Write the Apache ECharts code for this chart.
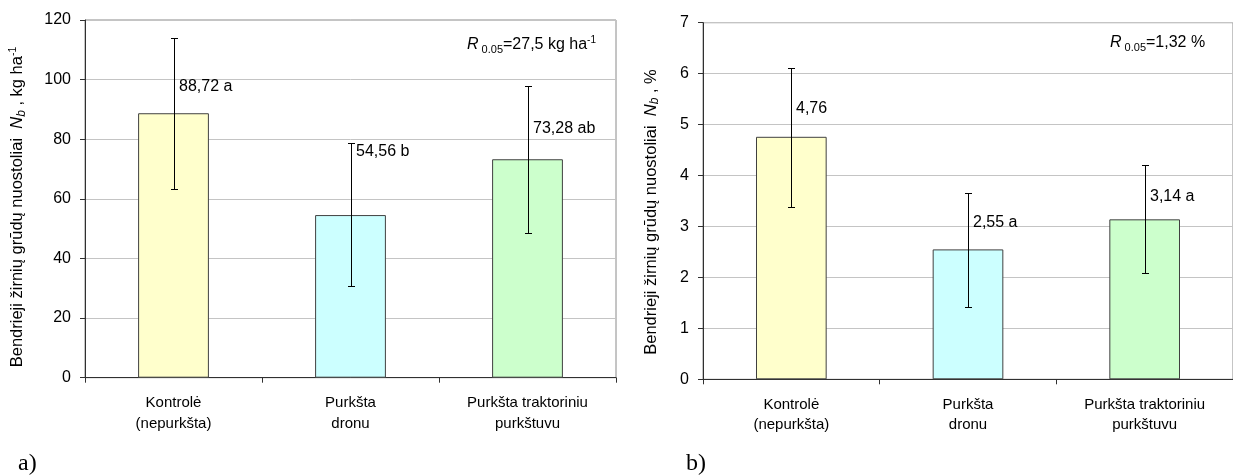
<!DOCTYPE html>
<html><head><meta charset="utf-8">
<script src="https://cdn.jsdelivr.net/npm/echarts@6/dist/echarts.min.js"></script>
<style>html,body{margin:0;padding:0;background:#fff}#c{width:1233px;height:476px}</style>
</head><body><div id="c"></div>
<script>
const categories = ['Kontrolė\n(nepurkšta)', 'Purkšta\ndronu', 'Purkšta traktoriniu\npurkštuvu'];
const barColors = ['#FFFFCC', '#CCFFFF', '#CCFFCC'];
const leftValues = [88.72, 54.56, 73.28];
const leftErrLow = [63.2, 30.8, 48.6];
const leftErrHigh = [114.1, 78.6, 97.9];
const leftLabels = ['88,72 a', '54,56 b', '73,28 ab'];
const leftLabelAt = [97.6, 75.8, 83.7];
const rightValues = [4.76, 2.55, 3.14];
const rightErrLow = [3.38, 1.42, 2.08];
const rightErrHigh = [6.11, 3.66, 4.21];
const rightLabels = ['4,76', '2,55 a', '3,14 a'];
const rightLabelAt = [5.32, 3.08, 3.58];
const leftTicks = {min: 0, max: 120, interval: 20};
const rightTicks = {min: 0, max: 7, interval: 1};
const leftTitle = '{t|Bendrieji žirnių grūdų nuostoliai  }{i|N}{sub|b}{t| , kg ha}{sup|-1}';
const rightTitle = '{t|Bendrieji žirnių grūdų nuostoliai  }{i|N}{sub|b}{t| , %}';

const FONT = '"Liberation Sans", Arial, sans-serif';
const chart = echarts.init(document.getElementById('c'), null, {renderer: 'canvas'});

function xAxis(gi) {
  return {
    type: 'category', gridIndex: gi, data: categories,
    axisLine: {lineStyle: {color: '#303030', width: 1}},
    axisTick: {show: true, alignWithLabel: false, length: 5, lineStyle: {color: '#303030'}},
    axisLabel: {color: '#000', fontFamily: FONT, fontSize: 15, lineHeight: 20.6, margin: 15, interval: 0}
  };
}
function yAxis(gi, ticks) {
  return {
    type: 'value', gridIndex: gi, min: ticks.min, max: ticks.max, interval: ticks.interval,
    axisLine: {show: true, lineStyle: {color: '#303030', width: 1}},
    axisTick: {show: true, length: 5, lineStyle: {color: '#303030'}},
    axisLabel: {color: '#000', fontFamily: FONT, fontSize: 16, margin: 14},
    splitLine: {show: true, lineStyle: {color: '#c4c4c4', width: 1}}
  };
}
function barSeries(gi, vals) {
  return {
    type: 'bar', xAxisIndex: gi, yAxisIndex: gi, barWidth: '40%',
    data: vals.map((v, i) => ({value: v, itemStyle: {color: barColors[i]}})),
    itemStyle: {borderColor: '#404040', borderWidth: 1},
    silent: true, animation: false, z: 2
  };
}
function errSeries(gi, lo, hi) {
  return {
    type: 'custom', xAxisIndex: gi, yAxisIndex: gi, z: 5, animation: false, silent: true,
    data: lo.map((l, i) => [i, l, hi[i]]),
    renderItem: function (params, api) {
      const i = api.value(0);
      const a = api.coord([i, api.value(1)]);
      const b = api.coord([i, api.value(2)]);
      const x = Math.round(a[0]) + 0.5;
      const y1 = Math.round(a[1]) + 0.5, y2 = Math.round(b[1]) + 0.5;
      const st = {stroke: '#000', lineWidth: 1};
      return {type: 'group', children: [
        {type: 'line', shape: {x1: x, y1: y1, x2: x, y2: y2}, style: st},
        {type: 'line', shape: {x1: x - 3.5, y1: y1, x2: x + 3.5, y2: y1}, style: st},
        {type: 'line', shape: {x1: x - 3.5, y1: y2, x2: x + 3.5, y2: y2}, style: st}
      ]};
    }
  };
}
function labelSeries(gi, at, texts) {
  return {
    type: 'custom', xAxisIndex: gi, yAxisIndex: gi, z: 6, animation: false, silent: true,
    data: at.map((v, i) => [i, v]),
    renderItem: function (params, api) {
      const i = api.value(0);
      const p = api.coord([i, api.value(1)]);
      return {type: 'text', x: Math.round(p[0]) + 5, y: p[1],
        style: {text: texts[params.dataIndex], fill: '#000', font: '16px ' + FONT, textAlign: 'left', textVerticalAlign: 'middle'}};
    }
  };
}

const rich = {
  t: {fontFamily: FONT, fontSize: 16, color: '#000', lineHeight: 20},
  i: {fontFamily: FONT, fontSize: 16, fontStyle: 'italic', color: '#000', lineHeight: 20},
  sub: {fontFamily: FONT, fontSize: 11, color: '#000', lineHeight: 20, verticalAlign: 'bottom'},
  sup: {fontFamily: FONT, fontSize: 10, color: '#000', lineHeight: 20, verticalAlign: 'top'}
};
const titleRich = {
  t: {fontFamily: FONT, fontSize: 16.5, color: '#000', lineHeight: 20},
  i: {fontFamily: FONT, fontSize: 16.5, fontStyle: 'italic', color: '#000', lineHeight: 20},
  sub: {fontFamily: FONT, fontSize: 12, fontStyle: 'italic', color: '#000', lineHeight: 20, verticalAlign: 'bottom'},
  sup: {fontFamily: FONT, fontSize: 10.5, color: '#000', lineHeight: 20, verticalAlign: 'top'}
};

chart.setOption({
  animation: false,
  backgroundColor: '#fff',
  grid: [
    {left: 85, top: 20, width: 531, height: 357.7, show: true, borderColor: '#8a8a8a', borderWidth: 1, backgroundColor: 'transparent'},
    {left: 703, top: 22.7, width: 537, height: 356.6, show: true, borderColor: '#8a8a8a', borderWidth: 1, backgroundColor: 'transparent'}
  ],
  xAxis: [xAxis(0), xAxis(1)],
  yAxis: [yAxis(0, leftTicks), yAxis(1, rightTicks)],
  series: [
    barSeries(0, leftValues), errSeries(0, leftErrLow, leftErrHigh), labelSeries(0, leftLabelAt, leftLabels),
    barSeries(1, rightValues), errSeries(1, rightErrLow, rightErrHigh), labelSeries(1, rightLabelAt, rightLabels)
  ],
  graphic: [
    {type: 'text', x: 17.5, y: 207, rotation: Math.PI / 2,
      style: {text: leftTitle, rich: titleRich, align: 'center', verticalAlign: 'middle'}},
    {type: 'text', x: 651, y: 212, rotation: Math.PI / 2,
      style: {text: rightTitle, rich: titleRich, align: 'center', verticalAlign: 'middle'}},
    {type: 'text', left: 467, top: 35, style: {text: '{i|R}{sub| 0.05}{t|=27,5 kg ha}{sup|-1}', rich: rich}},
    {type: 'text', left: 1110, top: 35, style: {text: '{i|R}{sub| 0.05}{t|=1,32 %}', rich: rich}},
    {type: 'text', left: 18, top: 452, style: {text: 'a)', font: '24px "Liberation Serif", "Times New Roman", serif', fill: '#000'}},
    {type: 'text', left: 686, top: 452, style: {text: 'b)', font: '24px "Liberation Serif", "Times New Roman", serif', fill: '#000'}}
  ]
});
</script></body></html>
